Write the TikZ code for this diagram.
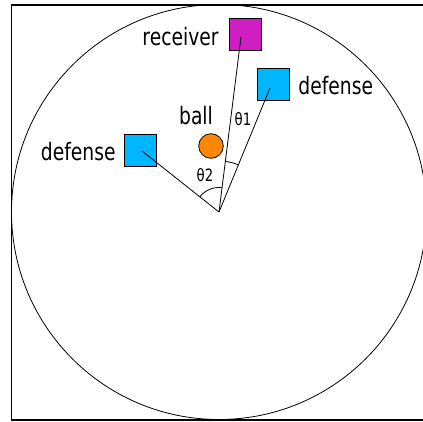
\documentclass[tikz,border=0pt]{standalone}
\usepackage{fontspec}
\setmainfont{DejaVu Sans}[FakeStretch=0.78]
\usepackage{tikz}
\tikzset{every picture/.append style={font=\fontsize{24}{28}\selectfont}}
\definecolor{defblue}{HTML}{00B7FF}
\definecolor{rcvmag}{HTML}{CF1FC3}
\definecolor{ballorange}{HTML}{FF8800}
\tikzset{
  player/.style={draw,minimum size=32pt,inner sep=0pt,line width=0.9pt},
  lbl/.style={inner sep=0pt},
  anglbl/.style={inner sep=0pt,font=\fontsize{17}{20}\selectfont},
}

\begin{document}
\begin{tikzpicture}[x=1pt,y=1pt,line width=0.8pt]
    \useasboundingbox (0,0) rectangle (423,421);
    \clip (0,0) rectangle (423,421);
    \draw[line width=1.3pt] (430,416) -- (11.5,416) -- (11.5,1) -- (430,1);
    \coordinate (c) at (219,209);
    \draw (c) circle (207.5);
    \node[player,fill=rcvmag] (rcv) at (245,387) {};
    \node[player,fill=defblue] (rdef) at (273,337) {};
    \node[player,fill=defblue] (ldef) at (140,271) {};
    \node[circle,draw,fill=ballorange,minimum size=24.6pt,inner sep=0pt] (ball) at (211,275) {};
    \coordinate (rcvpt) at (241,384);
    \coordinate (rdefpt) at (270,333);
    \coordinate (ldefpt) at (142,270);
    \draw (c) -- (rcvpt);
    \draw (c) -- (rdefpt);
    \draw (c) -- (ldefpt);
    \draw ([shift={(82.8:24.5)}]c) arc (82.8:141.6:24.5);
    \draw ([shift={(67.6:51)}]c) arc (67.6:82.8:51);
    \node[lbl,anchor=base east] (rcvlbl) at (219,375.5) {receiver};
    \node[lbl,anchor=base west] (rdeflbl) at (298,326.5) {defense};
    \node[lbl,anchor=base east] (ldeflbl) at (116,260) {defense};
    \node[lbl,anchor=base] (balllbl) at (196,296) {ball};
    \node[anglbl,anchor=base] (th1) at (243,295) {θ1};
    \node[anglbl,anchor=base] (th2) at (205,239.5) {θ2};
  \end{tikzpicture}
\end{document}
